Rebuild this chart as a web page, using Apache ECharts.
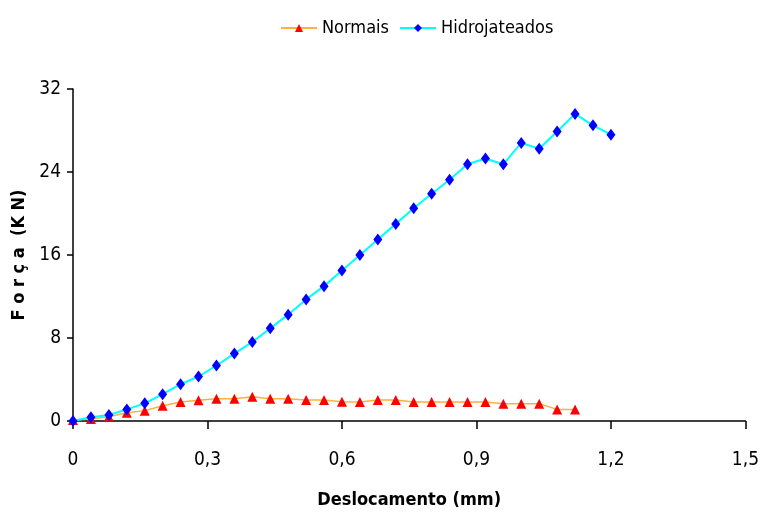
<!DOCTYPE html>
<html>
<head>
<meta charset="utf-8">
<script src="https://cdn.jsdelivr.net/npm/echarts@6/dist/echarts.min.js"></script>
<style>
html,body{margin:0;padding:0;background:#fff;}
#chart{width:762px;height:514px;}
</style>
</head>
<body>
<div id="chart"></div>
<script>
var deslocHidro = [0,0.04,0.08,0.12,0.16,0.2,0.24,0.28,0.32,0.36,0.4,0.44,0.48,0.52,0.56,0.6,0.64,0.68,0.72,0.76,0.8,0.84,0.88,0.92,0.96,1.0,1.04,1.08,1.12,1.16,1.2];
var forcaHidro = [0,0.36,0.58,1.12,1.7,2.59,3.55,4.29,5.35,6.5,7.62,8.93,10.25,11.72,13.0,14.5,16.0,17.5,19.0,20.5,21.9,23.25,24.75,25.3,24.75,26.8,26.25,27.9,29.6,28.5,27.6];
var deslocNorm = [0,0.04,0.08,0.12,0.16,0.2,0.24,0.28,0.32,0.36,0.4,0.44,0.48,0.52,0.56,0.6,0.64,0.68,0.72,0.76,0.8,0.84,0.88,0.92,0.96,1.0,1.04,1.08,1.12];
var forcaNorm = [0.1,0.2,0.4,0.8,1.0,1.47,1.83,1.99,2.14,2.14,2.33,2.14,2.14,2.02,2.02,1.86,1.83,2.02,2.02,1.83,1.83,1.83,1.83,1.83,1.66,1.66,1.66,1.12,1.12];
var seriesNames = ['Normais','Hidrojateados'];

function pairs(xs, ys){ return xs.map(function(x,i){ return [x, ys[i]]; }); }
var FONT = '"Liberation Sans Narrow","Arial Narrow","DejaVu Sans Condensed","Liberation Sans",Arial,sans-serif';

var chart = echarts.init(document.getElementById('chart'), null, {renderer:'canvas'});
chart.setOption({
  animation:false,
  backgroundColor:'#fff',
  textStyle:{fontFamily:FONT},
  legend:{
    top:14, left:275,
    itemWidth:36, itemHeight:10, itemGap:10,
    textStyle:{fontSize:18, color:'#000', fontFamily:FONT},
    data:seriesNames
  },
  grid:{left:73, right:15, top:89, bottom:92, containLabel:false},
  xAxis:{
    type:'value', min:0, max:1.5, interval:0.3,
    name:'Deslocamento (mm)', nameLocation:'middle', nameGap:70,
    nameTextStyle:{fontSize:18, fontWeight:'bold', color:'#000', fontFamily:FONT},
    axisLine:{show:true, onZero:false, lineStyle:{color:'#000', width:1.5}},
    axisTick:{show:true, inside:false, length:8, lineStyle:{color:'#000', width:1.5}},
    axisLabel:{fontSize:19, color:'#000', margin:30, fontFamily:FONT,
      formatter:function(v){ return String(+v.toFixed(1)).replace('.',','); }},
    splitLine:{show:false}
  },
  yAxis:{
    type:'value', min:0, max:32, interval:8,
    name:'F o r ç a  (K N)', nameLocation:'middle', nameGap:42,
    nameTextStyle:{fontSize:18, fontWeight:'bold', color:'#000', fontFamily:FONT},
    axisLine:{show:true, lineStyle:{color:'#000', width:1.5}},
    axisTick:{show:true, inside:false, length:6, lineStyle:{color:'#000', width:1.5}},
    axisLabel:{fontSize:19, color:'#000', margin:12, fontFamily:FONT},
    splitLine:{show:false}
  },
  series:[
    {
      name:seriesNames[0], type:'line', data:pairs(deslocNorm, forcaNorm),
      symbol:'triangle', symbolSize:[10,10], showAllSymbol:true,
      lineStyle:{color:'#FFB040', width:1.5},
      itemStyle:{color:'#FF0000', borderWidth:0},
      z:2
    },
    {
      name:seriesNames[1], type:'line', data:pairs(deslocHidro, forcaHidro),
      symbol:'diamond', symbolSize:[9,12], showAllSymbol:true,
      lineStyle:{color:'#00FFFF', width:2},
      itemStyle:{color:'#0000FF', borderWidth:0},
      z:3
    }
  ]
});
</script>
</body>
</html>
